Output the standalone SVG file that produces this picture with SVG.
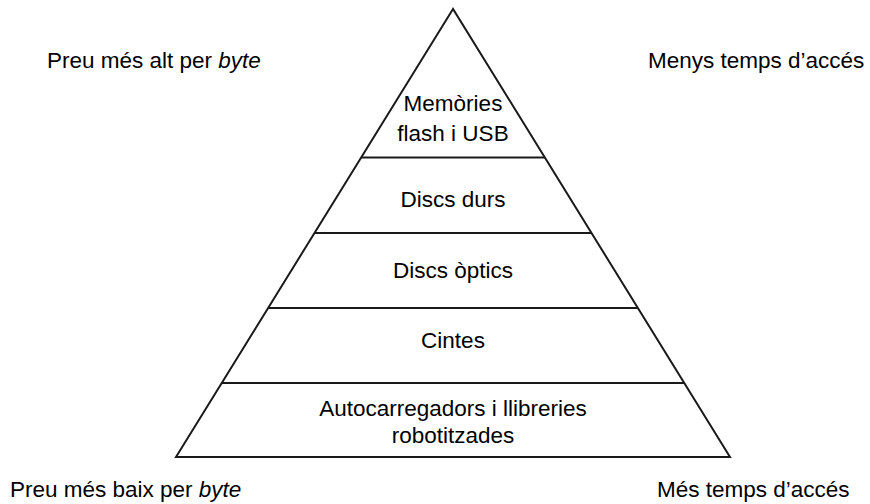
<svg xmlns="http://www.w3.org/2000/svg" width="870" height="504" viewBox="0 0 870 504">
  <style>
    .edge { stroke: #1a1a1a; stroke-width: 2; fill: none; }
    .lbl { font-family: "Liberation Sans", Arial, sans-serif; font-size: 22.5px; fill: #000; }
    .mid { text-anchor: middle; }
  </style>
  <rect width="870" height="504" fill="#fff"/>
  <!-- pyramid outline and tier dividers -->
  <g id="connectors">
    <polygon class="edge" points="453,9 176,457 730,457" stroke-linejoin="miter"/>
    <line class="edge" x1="361" y1="157.5" x2="545" y2="157.5"/>
    <line class="edge" x1="314" y1="233" x2="592" y2="233"/>
    <line class="edge" x1="268" y1="308" x2="638" y2="308"/>
    <line class="edge" x1="222" y1="383" x2="684" y2="383"/>
  </g>
  <g id="tier-flash">
    <text class="lbl mid" x="453" y="111">Memòries</text>
    <text class="lbl mid" x="453" y="141">flash i USB</text>
  </g>
  <g id="tier-hdd">
    <text class="lbl mid" x="453" y="207">Discs durs</text>
  </g>
  <g id="tier-optical">
    <text class="lbl mid" x="453" y="278">Discs òptics</text>
  </g>
  <g id="tier-tape">
    <text class="lbl mid" x="453" y="348">Cintes</text>
  </g>
  <g id="tier-robotic">
    <text class="lbl mid" x="453" y="416">Autocarregadors i llibreries</text>
    <text class="lbl mid" x="453" y="443">robotitzades</text>
  </g>
  <g id="axis-labels">
    <text class="lbl" x="47" y="68">Preu més alt per <tspan font-style="italic">byte</tspan></text>
    <text class="lbl" x="648" y="68">Menys temps d’accés</text>
    <text class="lbl" x="10" y="497">Preu més baix per <tspan font-style="italic">byte</tspan></text>
    <text class="lbl" x="657" y="497">Més temps d’accés</text>
  </g>
</svg>
